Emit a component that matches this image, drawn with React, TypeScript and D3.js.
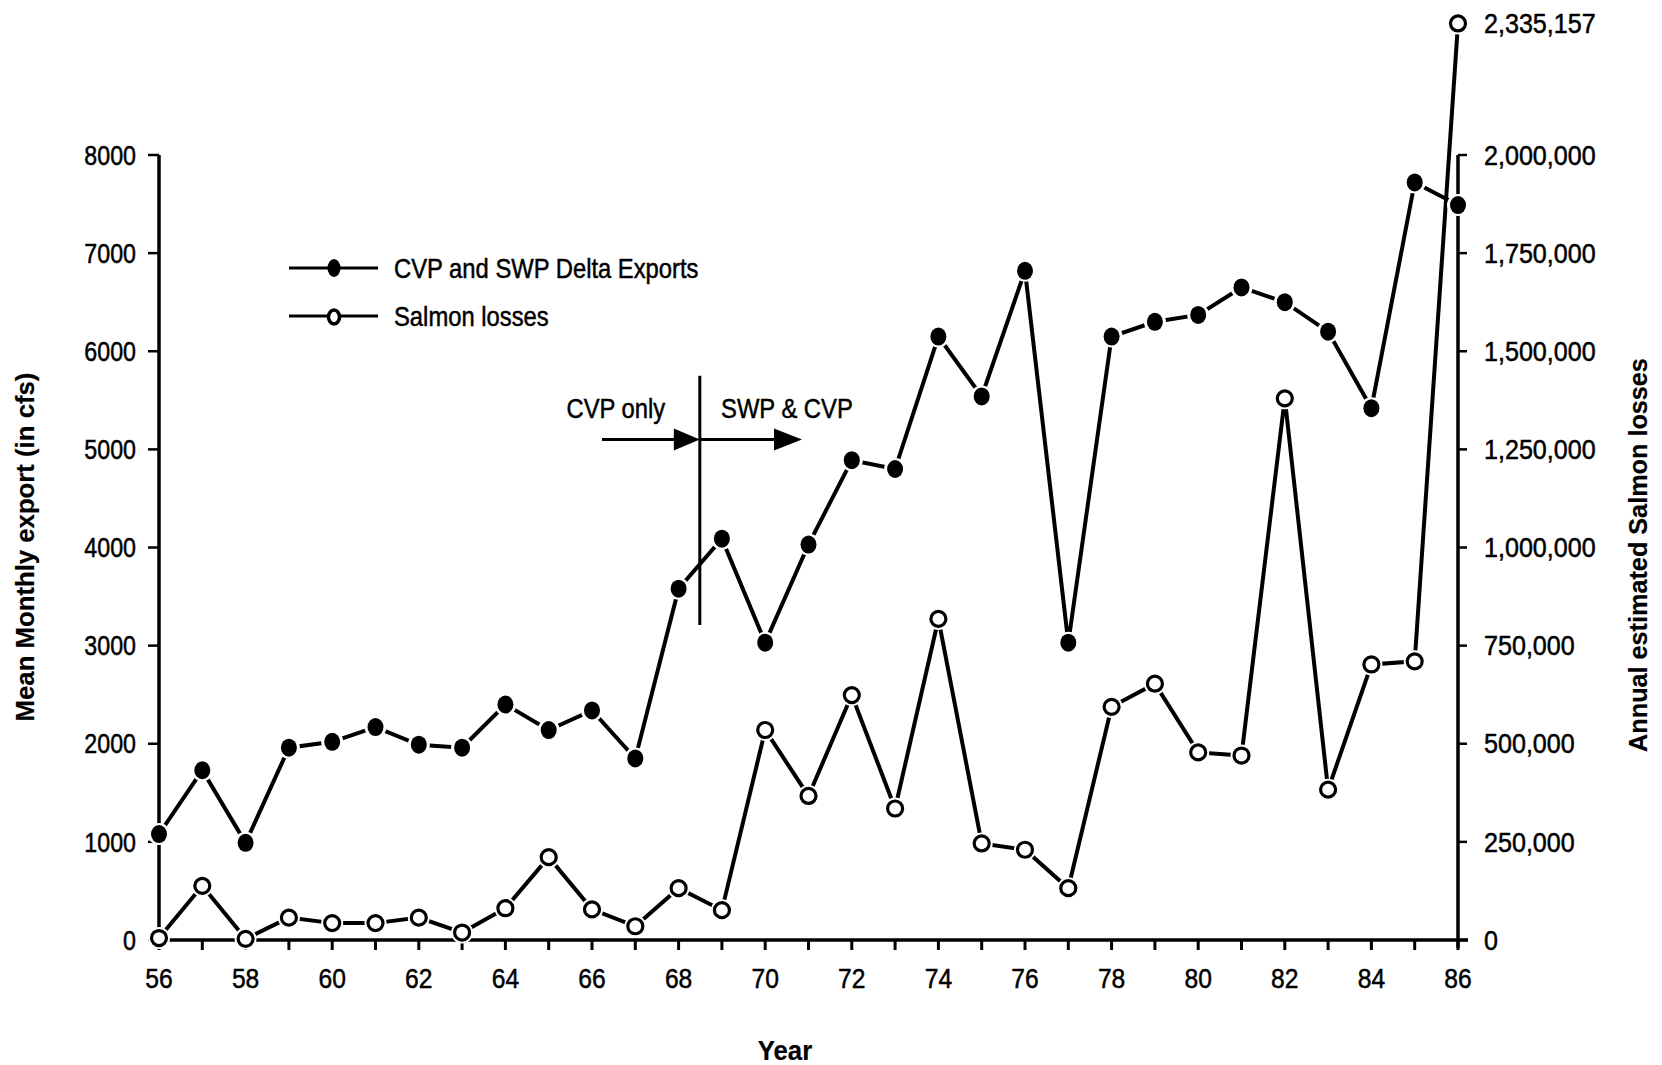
import React from "react";
import * as d3 from "d3";

const years = [56,57,58,59,60,61,62,63,64,65,66,67,68,69,70,71,72,73,74,75,76,77,78,79,80,81,82,83,84,85,86];
const exportsCfs = [1080,1730,990,1960,2020,2170,1990,1960,2400,2140,2340,1850,3580,4090,3030,4030,4890,4800,6150,5540,6820,3030,6150,6300,6370,6650,6500,6200,5420,7720,7490];
const salmonLosses = [5000,138000,3000,57000,43000,43000,57000,19000,81000,211000,78000,35000,132000,76000,535000,367000,624000,335000,818000,246000,230000,132000,594000,653000,478000,470000,1380000,383000,702000,710000,2335157];
const leftTicks = [0,1000,2000,3000,4000,5000,6000,7000,8000];
const rightTicks = [0,250000,500000,750000,1000000,1250000,1500000,1750000,2000000];
const xLabelYears = [56,58,60,62,64,66,68,70,72,74,76,78,80,82,84,86];
const seriesNames = ["CVP and SWP Delta Exports", "Salmon losses"];
const peakLabel = "2,335,157";

const W = 1662, H = 1065;
const FONT = "'Liberation Sans', Arial, sans-serif";

function T(props: { x: number; y: number; anchor?: string; sx?: number; size?: number; bold?: boolean; children: any; rotate?: boolean }) {
  const { x, y, anchor = "start", sx = 0.85, size = 27, bold = false, children, rotate = false } = props;
  const tr = rotate ? `translate(${x},${y}) rotate(-90) scale(${sx},1)` : `translate(${x},${y}) scale(${sx},1)`;
  return (
    <text transform={tr} x={0} y={0} dy="0.36em" textAnchor={anchor} fontSize={size} fontWeight={bold ? "bold" : "normal"} fill="#000" stroke="#000" strokeWidth={bold ? 0.2 : 0.5}>
      {children}
    </text>
  );
}

export default function App() {
  const x = d3.scaleLinear().domain([56, 86]).range([159, 1458]);
  const yL = d3.scaleLinear().domain([0, 8000]).range([940, 155]);
  const yR = d3.scaleLinear().domain([0, 2000000]).range([940, 155]);
  const fmt = d3.format(",");

  const lineE = d3.line<number>().x((_, i) => x(years[i])).y((d) => yL(d));
  const lineS = d3.line<number>().x((_, i) => x(years[i])).y((d) => yR(d));

  const x0 = x(56), x1 = x(86);
  const yb = yL(0);
  const sw = 4;

  const divYear = 68.49;
  const arrowVal = 5100;

  return (
    <svg width={W} height={H} style={{ position: "absolute", left: 0, top: 0, background: "#fff" }} fontFamily={FONT}>
      <rect x={0} y={0} width={W} height={H} fill="#fff" />
      {/* left axis */}
      <line x1={x0} x2={x0} y1={yL(8000)} y2={yb + 8} stroke="#000" strokeWidth={3.5} />
      {leftTicks.map((t) => (
        <g key={"l" + t}>
          <line x1={x0 - 11} x2={x0} y1={yL(t)} y2={yL(t)} stroke="#000" strokeWidth={2.5} />
          <T x={136} y={yL(t)} anchor="end" size={27} sx={0.86}>{t}</T>
        </g>
      ))}
      {/* right axis */}
      <line x1={x1} x2={x1} y1={yR(2000000)} y2={yb + 8} stroke="#000" strokeWidth={3.5} />
      {rightTicks.map((t) => (
        <g key={"r" + t}>
          <line x1={x1} x2={x1 + 9} y1={yR(t)} y2={yR(t)} stroke="#000" strokeWidth={2.5} />
          <T x={1484} y={yR(t)} anchor="start" size={27} sx={0.93}>{fmt(t)}</T>
        </g>
      ))}
      <T x={1484} y={yR(2335157)} anchor="start" size={27} sx={0.93}>{peakLabel}</T>
      {/* x axis */}
      <line x1={x0} x2={x1 + 10} y1={yb} y2={yb} stroke="#000" strokeWidth={3.5} />
      {years.map((yr) => (
        <line key={"xt" + yr} x1={x(yr)} x2={x(yr)} y1={yb} y2={yb + 10} stroke="#000" strokeWidth={3} />
      ))}
      {xLabelYears.map((yr) => (
        <T key={"xl" + yr} x={x(yr)} y={978} anchor="middle" size={28} sx={0.88}>{yr}</T>
      ))}
      {/* axis titles */}
      <T x={25} y={547} anchor="middle" size={26} sx={0.99} bold rotate>Mean Monthly export (in cfs)</T>
      <T x={1638} y={555} anchor="middle" size={26} sx={0.97} bold rotate>Annual estimated Salmon losses</T>
      <T x={785} y={1050} anchor="middle" size={28} sx={0.92} bold>Year</T>

      {/* lines */}
      <path d={lineE(exportsCfs) || ""} fill="none" stroke="#000" strokeWidth={sw} />
      <path d={lineS(salmonLosses) || ""} fill="none" stroke="#000" strokeWidth={sw} />

      {/* marker halos */}
      {exportsCfs.map((v, i) => (
        <circle key={"he" + i} cx={x(years[i])} cy={yL(v)} r={11} fill="#fff" />
      ))}
      {salmonLosses.map((v, i) => (
        <circle key={"hs" + i} cx={x(years[i])} cy={yR(v)} r={11} fill="#fff" />
      ))}
      {/* markers */}
      {exportsCfs.map((v, i) => (
        <ellipse key={"me" + i} cx={x(years[i])} cy={yL(v)} rx={8} ry={9} fill="#000" />
      ))}
      {salmonLosses.map((v, i) => (
        <circle key={"ms" + i} cx={x(years[i])} cy={yR(v)} r={7.5} fill="#fff" stroke="#000" strokeWidth={3.2} />
      ))}

      {/* legend */}
      <line x1={289} x2={378} y1={268} y2={268} stroke="#000" strokeWidth={3.2} />
      <ellipse cx={334} cy={268} rx={6.5} ry={9} fill="#000" />
      <T x={394} y={268} size={28} sx={0.85}>{seriesNames[0]}</T>
      <line x1={289} x2={378} y1={316} y2={316} stroke="#000" strokeWidth={3.2} />
      <ellipse cx={334} cy={317} rx={5.5} ry={7} fill="#fff" stroke="#000" strokeWidth={3.5} />
      <T x={394} y={316} size={28} sx={0.85}>{seriesNames[1]}</T>

      {/* annotation */}
      <line x1={x(divYear)} x2={x(divYear)} y1={yL(5750)} y2={yL(3210)} stroke="#000" strokeWidth={3} />
      <line x1={x(66.23)} x2={x(divYear) - 20} y1={yL(arrowVal)} y2={yL(arrowVal)} stroke="#000" strokeWidth={3} />
      <path d={`M${x(divYear) - 26},${yL(arrowVal) - 11} L${x(divYear)},${yL(arrowVal)} L${x(divYear) - 26},${yL(arrowVal) + 11} Z`} fill="#000" />
      <line x1={x(divYear)} x2={x(70.85) - 20} y1={yL(arrowVal)} y2={yL(arrowVal)} stroke="#000" strokeWidth={3} />
      <path d={`M${x(70.85) - 28},${yL(arrowVal) - 11} L${x(70.85)},${yL(arrowVal)} L${x(70.85) - 28},${yL(arrowVal) + 11} Z`} fill="#000" />
      <T x={x(66.55)} y={yL(5420)} anchor="middle" size={28} sx={0.85}>CVP only</T>
      <T x={x(68.98)} y={yL(5420)} anchor="start" size={28} sx={0.85}>SWP &amp; CVP</T>
    </svg>
  );
}
